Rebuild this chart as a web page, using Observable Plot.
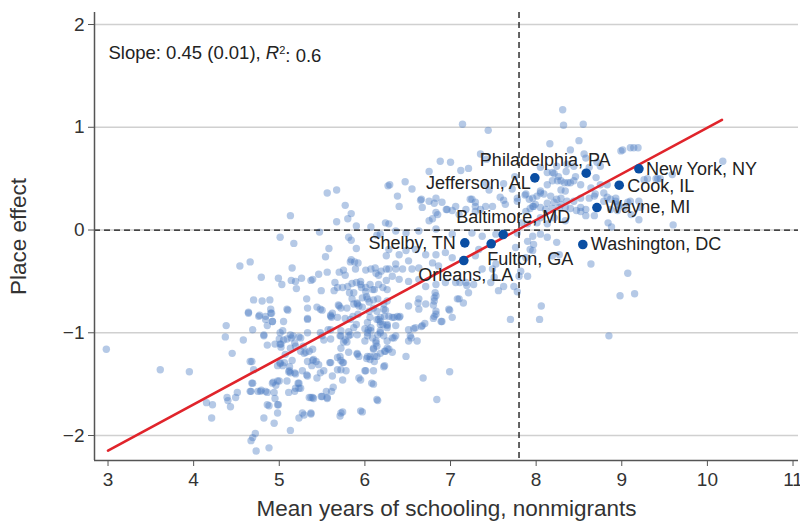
<!DOCTYPE html>
<html><head><meta charset="utf-8">
<script src="https://cdn.jsdelivr.net/npm/d3@7"></script>
<script src="https://cdn.jsdelivr.net/npm/@observablehq/plot@0.6"></script>
<style>
body{margin:0;background:#fff;}
#chart svg{display:block;}
g[aria-label="x-axis label"] text, g[aria-label="y-axis label"] text{font-size:22.5px;}
</style></head><body><div id="chart"></div>
<script>
// County points: [mean years of schooling of nonmigrants, place effect]
const countyPoints = [
[2.98,-1.16],[3.61,-1.36],[3.95,-1.38],[4.38,-0.93],[4.37,-1.04],[4.45,-1.20],[4.58,-1.07],[4.64,-0.81],[4.69,-0.97],[4.68,-1.28],[4.70,-1.36],[4.69,-1.49],[4.67,-1.57],[4.75,-1.57],[4.79,-1.56],[4.15,-1.68],[4.22,-1.70],[4.39,-1.63],[4.40,-1.66],[4.49,-1.63],[4.43,-1.72],[4.21,-1.83],[4.51,-1.58],[4.72,-1.98],[4.69,-2.02],[4.67,-2.05],[4.73,-2.15],[4.88,-2.12],[4.82,-1.83],[4.94,-1.88],[5.13,-1.95],[4.88,-1.71],[4.98,-1.78],[4.95,-1.64],[4.99,-1.70],[4.84,-1.57],[4.92,-1.49],[4.93,-1.48],[4.96,-1.51],[5.00,-1.47],[5.09,-1.47],[5.11,-1.38],[5.12,-1.37],[5.18,-1.39],[5.22,-1.49],[5.18,-1.57],[5.25,-1.54],[5.23,-1.83],[5.29,-1.80],[5.37,-1.79],[5.35,-1.63],[5.39,-1.63],[5.49,-1.62],[5.56,-1.64],[5.44,-1.44],[5.48,-1.39],[5.55,-1.57],[5.61,-1.57],[5.63,-1.53],[5.32,-1.41],[5.33,-1.28],[5.39,-1.27],[5.43,-1.28],[5.46,-1.31],[5.29,-1.20],[5.35,-1.18],[5.39,-1.16],[5.15,-1.27],[5.12,-1.33],[5.06,-1.29],[5.04,-1.32],[5.01,-1.30],[5.07,-1.21],[5.02,-1.14],[5.02,-1.11],[4.95,-1.11],[4.86,-1.12],[4.82,-1.03],[4.86,-0.93],[4.92,-0.89],[4.84,-0.84],[4.77,-0.83],[4.90,-0.81],[5.09,-0.77],[5.10,-0.78],[5.16,-1.03],[5.14,-1.05],[5.18,-1.10],[5.23,-1.04],[5.25,-1.05],[5.28,-1.13],[5.25,-1.18],[5.04,-0.98],[5.00,-1.06],[5.33,-0.86],[5.33,-0.76],[5.44,-0.75],[5.50,-0.78],[5.62,-0.81],[5.61,-0.85],[5.70,-0.74],[5.79,-0.76],[5.77,-0.86],[5.90,-0.92],[6.00,-0.96],[5.50,-1.03],[5.57,-0.97],[5.52,-1.07],[5.60,-1.06],[5.71,-1.03],[5.75,-1.09],[5.79,-1.09],[5.81,-1.03],[5.81,-0.99],[5.68,-1.24],[5.71,-1.23],[5.74,-1.29],[5.81,-1.19],[5.59,-1.29],[5.68,-1.36],[5.74,-1.46],[5.91,-1.20],[5.95,-1.46],[6.00,-1.37],[6.02,-1.25],[6.06,-1.23],[6.11,-1.28],[6.11,-1.23],[6.18,-1.20],[6.23,-1.18],[6.10,-1.50],[6.15,-1.66],[5.97,-1.77],[5.74,-1.77],[5.71,-1.81],[6.23,-1.32],[6.00,-1.08],[6.03,-1.03],[6.13,-1.08],[6.14,-1.13],[6.10,-1.16],[6.04,-0.97],[6.07,-0.98],[6.15,-1.02],[6.06,-0.85],[6.16,-0.87],[6.21,-0.92],[6.18,-0.89],[6.26,-0.92],[6.23,-0.84],[6.14,-0.79],[6.24,-0.78],[5.86,-0.84],[5.92,-0.82],[5.97,-0.75],
[5.56,0.36],[5.67,0.39],[5.77,0.24],[5.84,0.16],[5.80,0.11],[5.67,0.08],[5.13,0.14],[5.90,0.04],[6.07,0.03],[6.24,0.07],[6.27,0.43],[5.47,-0.02],[5.01,-0.07],[5.17,-0.13],[5.81,-0.07],[5.84,-0.10],[5.58,-0.18],[5.90,-0.18],[6.18,-0.04],[6.14,-0.05],[6.25,-0.25],[5.54,-0.26],[5.84,-0.29],[5.88,-0.31],[5.92,-0.32],[4.54,-0.35],[4.66,-0.31],[5.15,-0.37],[4.79,-0.46],[4.99,-0.47],[5.03,-0.53],[5.14,-0.49],[5.19,-0.50],[5.26,-0.47],[5.20,-0.57],[5.37,-0.49],[5.39,-0.48],[5.46,-0.43],[5.56,-0.41],[5.70,-0.41],[5.75,-0.39],[5.77,-0.44],[5.89,-0.38],[5.83,-0.31],[6.01,-0.39],[6.07,-0.38],[6.12,-0.37],[6.13,-0.42],[6.16,-0.44],[6.19,-0.40],[6.25,-0.38],[5.65,-0.51],[5.68,-0.56],[5.74,-0.56],[5.80,-0.55],[5.82,-0.61],[5.90,-0.51],[5.95,-0.53],[6.01,-0.56],[6.06,-0.53],[6.11,-0.58],[6.16,-0.53],[6.21,-0.56],[6.26,-0.58],[6.25,-0.49],[5.32,-0.67],[5.49,-0.59],[4.70,-0.68],[4.80,-0.69],[4.89,-0.68],[4.90,-0.77],[4.91,-0.81],[4.64,-0.80],[5.69,-0.73],[5.72,-0.76],[5.91,-0.72],[5.97,-0.66],[6.02,-0.65],[6.05,-0.70],[6.10,-0.68],[6.15,-0.67],[6.22,-0.72],
[5.48,-0.77],[5.60,-0.83],[5.87,-0.72],[5.93,-0.74],[6.05,-0.79],[6.10,-0.76],[6.22,-0.77],[6.26,-0.69],[6.28,-0.84],[6.18,-0.85],[5.85,-0.52],[5.95,-0.50],[5.64,-0.59],[5.87,-0.61],[5.96,-0.56],[6.01,-0.60],[6.09,-0.58],[5.85,-0.67],[5.91,-0.71],[6.03,-0.67],
[5.01,-1.11],[5.05,-1.07],[5.09,-1.06],[5.13,-1.15],[5.19,-1.13],[5.31,-1.19],[5.01,-1.29],[4.98,-1.32],[4.66,-1.28],[4.68,-1.49],[4.66,-1.57],[4.78,-1.57],[4.86,-1.58],[4.94,-1.58],[4.98,-1.47],[5.13,-1.39],[5.19,-1.40],[5.27,-1.37],[5.23,-1.49],[5.33,-1.42],[5.40,-1.26],[5.38,-1.32],[5.52,-1.37],[5.60,-1.29],[5.72,-1.27],[5.75,-1.29],[5.62,-1.42],[5.72,-1.36],[5.78,-1.37],[5.83,-1.02],[5.72,-1.03],[5.77,-1.07],[5.91,-1.02],[5.72,-1.15],[6.03,-1.00],[6.09,-1.05],[6.13,-1.10],[6.18,-1.00],[6.22,-1.03],[6.26,-1.08],[6.10,-1.15],[6.14,-1.23],[6.06,-1.26],[6.24,-1.18],[6.26,-1.15],[6.03,-1.23],[5.91,-1.21],[5.93,-1.23],[5.93,-1.44],[6.01,-1.37],[6.10,-1.37],[6.08,-1.49],[6.14,-1.65],[6.22,-1.33],[5.37,-1.63],[5.40,-1.64],[5.50,-1.62],[5.56,-1.63],[5.19,-1.54],[5.23,-1.54],[5.11,-1.58],[4.86,-1.70],[4.98,-1.70],[5.27,-1.78],[5.37,-1.78],[5.72,-1.78],[5.95,-1.76],[4.76,-0.84],[4.84,-0.87],[4.92,-0.89],[5.05,-0.89],[5.33,-0.87],[5.60,-0.84],[5.68,-0.85],[5.83,-0.87],[6.03,-0.90],[6.14,-0.87],[6.18,-0.92],[6.26,-0.93],[6.07,-0.95],[5.87,-0.95],[5.72,-0.98],[5.60,-0.97],[5.48,-1.00],[5.33,-1.00],[5.13,-1.02],[5.01,-1.00],[4.82,-1.02],
[6.29,0.44],[6.40,0.23],[6.66,0.30],[6.75,0.28],[6.83,0.31],[6.67,0.22],[6.83,0.17],[6.75,0.09],[6.96,0.20],[7.06,0.23],[7.23,0.30],[7.29,0.27],[7.41,0.23],[7.49,0.23],[7.18,0.20],[7.29,0.18],[7.64,0.25],[7.78,0.28],[7.88,0.18],[7.92,0.30],[7.96,0.23],[6.28,0.06],[6.36,-0.01],[6.48,-0.03],[6.63,-0.01],[6.83,0.01],[7.02,-0.04],[7.25,-0.03],[7.37,-0.06],[7.53,-0.04],[7.78,-0.03],[7.96,-0.06],[6.28,-0.19],[6.40,-0.24],[6.48,-0.20],[6.59,-0.19],[6.71,-0.24],[6.36,-0.33],[6.51,-0.30],[6.63,-0.37],[6.79,-0.32],[6.86,-0.35],[6.83,-0.24],[6.94,-0.22],[7.02,-0.27],[7.29,-0.25],[7.33,-0.19],[7.53,-0.33],[7.76,-0.17],[7.88,-0.27],[7.96,-0.20],
[6.28,-0.38],[6.36,-0.38],[6.44,-0.38],[6.55,-0.38],[6.63,-0.48],[6.51,-0.50],[6.40,-0.48],[6.32,-0.45],[6.71,-0.55],[6.83,-0.53],[6.94,-0.51],[7.06,-0.51],[7.18,-0.51],[7.27,-0.53],[7.08,-0.67],[7.21,-0.61],[7.56,-0.59],[7.74,-0.55],[7.90,-0.45],[7.80,-0.45],[7.49,-0.38],[7.37,-0.38],[6.63,-0.67],[6.51,-0.74],[6.63,-0.77],[6.71,-0.72],[6.83,-0.64],[6.81,-0.69],[6.81,-0.84],[6.83,-0.79],[6.90,-0.89],[7.02,-0.85],[6.98,-0.77],[6.67,-0.93],[6.59,-0.95],[6.51,-0.97],[6.36,-0.93],[6.40,-0.85],[6.32,-0.85],[7.70,-0.87],[6.32,-1.05],[6.36,-1.03],[6.53,-1.03],[6.61,-1.08],[6.51,-1.08],[6.28,-1.16],[6.32,-1.19],[6.48,-1.23],
[7.78,-0.60],[8.04,-0.87],[8.06,-0.74],[8.98,-0.64],[9.15,-0.62],[8.85,-1.03],[6.99,-1.38],[6.68,-1.44],[6.84,-1.65],[6.54,-1.05],[6.66,-0.94],[6.70,-0.91],[6.62,-0.71],[6.80,-0.73],[6.81,-0.66],[6.82,-0.61],[6.89,-0.89],[6.99,-0.78],[7.10,-0.67],[7.15,-0.71],[7.19,-0.54],[7.11,-0.51],[6.83,-0.82],[6.80,-0.86],[6.57,-0.96],[6.34,-0.85],[6.38,-0.84],[6.41,-0.84],[6.34,-1.05],[6.26,-0.95],[6.18,-0.98],
[8.31,1.17],[8.32,1.02],[8.55,1.03],[7.14,1.03],[7.44,0.97],[8.16,0.84],[8.50,0.87],[8.40,0.78],[8.56,0.74],[8.58,0.70],[7.35,0.74],[7.42,0.69],[7.00,0.66],[6.75,0.57],[7.12,0.58],[7.21,0.60],[8.99,0.77],[9.01,0.78],[9.10,0.80],[9.14,0.80],[9.19,0.80],[10.18,0.67],[9.59,0.54],[9.42,0.50],[9.45,0.50],[8.35,0.57],[8.21,0.55],[8.26,0.52],[8.13,0.44],[8.19,0.48],[8.37,0.46],[8.44,0.48],[8.29,0.39],[8.34,0.38],[8.70,0.51],[8.75,0.44],[8.83,0.44],[8.52,0.44],[8.64,0.41],[8.69,0.35],[8.79,0.36],[8.83,0.32],[8.87,0.30],[8.93,0.28],[8.97,0.24],[9.07,0.27],[9.20,0.28],[9.11,0.15],[9.20,0.10],[9.60,0.05],[8.84,0.07],[8.88,0.03],[8.68,0.14],[8.58,0.14],[8.47,0.19],[8.52,0.18],[8.24,0.30],[8.29,0.25],[8.34,0.22],[8.40,0.21],[8.13,0.26],[8.19,0.21],[8.05,0.36],[8.01,0.33],[7.99,0.25],[7.93,0.21],[7.87,0.34],[7.78,0.31],[7.62,0.29],[7.58,0.32],[7.45,0.39],[7.42,0.45],[7.25,0.30],[6.90,0.27],[6.81,0.26],[6.65,0.29],[6.95,0.20],[7.02,0.19],[7.10,0.15],[6.79,0.11],[6.85,0.15],[7.29,0.23],[7.35,0.20],[8.05,0.12],[8.01,0.07],[8.13,0.06],[8.21,0.12],[8.34,0.09],[7.83,0.07],[7.90,0.06],[8.05,-0.04],[8.13,-0.07],[8.24,-0.12],[7.90,-0.11],[7.97,-0.14],[7.93,-0.19],[8.27,-0.24],[8.19,-0.25],[8.64,-0.33],[9.07,-0.42],[7.82,-0.40],[7.51,-0.46],[7.47,-0.51],[7.62,-0.55],
[8.71,0.66],[8.75,0.62],[8.62,0.61],[9.26,0.49],[9.30,0.50],[9.40,0.50],[7.88,0.35],[7.96,0.31],[8.05,0.38],[8.09,0.35],[8.17,0.33],[8.21,0.27],[8.29,0.31],[8.36,0.28],[8.44,0.28],[8.52,0.31],[8.62,0.31],[8.68,0.33],[8.79,0.28],[8.93,0.31],[8.95,0.25],[9.10,0.28],[9.22,0.22],[7.97,0.23],[8.05,0.22],[8.11,0.20],[8.27,0.22],[8.52,0.22],[8.58,0.20],[8.87,0.20],[8.95,0.19],[9.03,0.22],[8.29,0.48],[8.33,0.46],[8.40,0.46],[8.46,0.52],[8.25,0.48],[8.13,0.56],[8.19,0.56],[8.05,0.61],[8.24,0.62],[8.36,0.64],[8.44,0.62],
[6.38,0.33],[6.55,0.40],[6.47,0.47],[6.88,0.67],[7.62,0.45],[7.75,0.52],[7.72,0.40]
];

// Highlighted counties
const highlightNames = ["New York, NY","Cook, IL","Wayne, MI","Philadelphia, PA","Jefferson, AL","Washington, DC","Baltimore, MD","Fulton, GA","Shelby, TN","Orleans, LA"];
const highlightSchooling = [9.20, 8.97, 8.71, 8.585, 7.985, 8.545, 7.615, 7.475, 7.167, 7.155];
const highlightEffect = [0.596, 0.436, 0.219, 0.553, 0.508, -0.141, -0.044, -0.134, -0.125, -0.297];

// Fitted regression line end points
const fitSchooling = [3.0, 10.17];
const fitEffect = [-2.146, 1.072];

const schoolingCutoff = [7.8];
const effectZero = [0];
const xTicks = [3, 4, 5, 6, 7, 8, 9, 10, 11];
const yTicks = [-2, -1, 0, 1, 2];
const annotation = ["Slope: 0.45 (0.01), R2: 0.6"];

// label placement (styling, not data)
const labelLayout = {
  "New York, NY": {dx: 7, dy: 0, a: "start"},
  "Cook, IL": {dx: 8, dy: 1, a: "start"},
  "Wayne, MI": {dx: 8, dy: 0, a: "start"},
  "Washington, DC": {dx: 8, dy: 0, a: "start"},
  "Philadelphia, PA": {dx: -41, dy: -13, a: "middle"},
  "Jefferson, AL": {dx: -4, dy: 5, a: "end"},
  "Baltimore, MD": {dx: 10, dy: -17, a: "middle"},
  "Shelby, TN": {dx: -9, dy: 0, a: "end"},
  "Fulton, GA": {dx: -4, dy: 15, a: "start"},
  "Orleans, LA": {dx: 2, dy: 15, a: "middle"}
};

const points = countyPoints.map(([x, y]) => ({x, y}));
const highlights = highlightNames.map((name, i) => ({name, x: highlightSchooling[i], y: highlightEffect[i]}));
const fit = fitSchooling.map((x, i) => ({x, y: fitEffect[i]}));

const xDomain = [2.842, 11.064];
const yDomain = [-2.243, 2.117];
const fmt = d => d < 0 ? "\u2212" + Math.abs(d) : String(d);
const font = "'Liberation Sans', Arial, Helvetica, sans-serif";

const chart = Plot.plot({
  width: 800, height: 521,
  marginLeft: 94, marginRight: 2, marginTop: 12, marginBottom: 61,
  style: {fontFamily: font, fontSize: "19px", color: "#333", background: "#fff"},
  x: {domain: xDomain},
  y: {domain: yDomain},
  marks: [
    Plot.gridY(yTicks, {stroke: "#d0d0d0", strokeOpacity: 1, strokeWidth: 1.5}),
    Plot.dot(points, {x: "x", y: "y", r: 3.7, fill: "#4f7fc4", fillOpacity: 0.42, stroke: "none"}),
    Plot.ruleX(schoolingCutoff, {stroke: "#111", strokeWidth: 1.3, strokeDasharray: "6,4"}),
    Plot.ruleY(effectZero, {stroke: "#111", strokeWidth: 1.3, strokeDasharray: "6,4"}),
    Plot.line(fit, {x: "x", y: "y", stroke: "#e0242b", strokeWidth: 2.6}),
    Plot.dot(highlights, {x: "x", y: "y", r: 4.8, fill: "#0a4ea3", stroke: "none"}),
    ...highlights.map(d => Plot.text([d], {
      x: "x", y: "y", text: "name", dx: labelLayout[d.name].dx, dy: labelLayout[d.name].dy,
      textAnchor: labelLayout[d.name].a, fontSize: 18, fill: "#222"
    })),
    Plot.ruleX([xDomain[0]], {stroke: "#555", strokeWidth: 1.5}),
    Plot.ruleY([yDomain[0]], {stroke: "#555", strokeWidth: 1.5}),
    Plot.axisX({ticks: xTicks, tickSize: 6, tickPadding: 6, stroke: "#555", label: "Mean years of schooling, nonmigrants", labelAnchor: "center", labelArrow: "none", labelOffset: 55}),
    Plot.axisY({ticks: yTicks, tickSize: 6, tickPadding: 4, stroke: "#555", tickFormat: fmt, label: "Place effect", labelAnchor: "center", labelArrow: "none", labelOffset: 84}),
    Plot.text(annotation, {frameAnchor: "top-left", dx: 14, dy: 33, textAnchor: "start", fontSize: 18.5, fill: "#222"})
  ]
});

document.getElementById("chart").appendChild(chart);

// rich text for the annotation (italic R, superscript 2)
d3.select(chart).selectAll("text").filter(function() { return this.textContent === annotation[0]; })
  .each(function() {
    const t = d3.select(this);
    t.text("");
    t.append("tspan").text("Slope: 0.45 (0.01), ");
    t.append("tspan").attr("font-style", "italic").text("R");
    t.append("tspan").attr("dy", "-0.45em").attr("font-size", "11px").text("2");
    t.append("tspan").attr("dy", "0.45em").text(": 0.6");
  });
</script></body></html>
